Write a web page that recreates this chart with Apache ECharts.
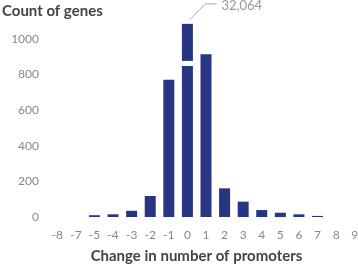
<!DOCTYPE html>
<html><head><meta charset="utf-8">
<script src="https://cdn.jsdelivr.net/npm/echarts@6/dist/echarts.min.js"></script>
<style>html,body{margin:0;padding:0;background:#fff}#c{width:358px;height:270px}</style>
</head><body><div id="c"></div>
<script>
// Categories (change in number of promoters); note -6 is absent in the source
var categories = ['-8','-7','-5','-4','-3','-2','-1','0','1','2','3','4','5','6','7','8','9'];
// Visible bar heights (count of genes); the '0' bar is broken, its lower segment is shown here
var counts     = [0, 0, 10, 15, 35, 118, 770, 848, 914, 161, 86, 39, 24, 15, 6, 0, 0];
// Axis-break gap and upper segment of the broken '0' bar
var breakGap   = [0, 0, 0, 0, 0, 0, 0, 28, 0, 0, 0, 0, 0, 0, 0, 0, 0];
var brokenTop  = [0, 0, 0, 0, 0, 0, 0, 208, 0, 0, 0, 0, 0, 0, 0, 0, 0];
var brokenCategory = '0';
var brokenLabel = '32,064';
var yTicks = [0, 200, 400, 600, 800, 1000];

var navy = '#283583';
var chart = echarts.init(document.getElementById('c'), null, {renderer: 'canvas'});
chart.setOption({
  animation: false,
  textStyle: {fontFamily: 'Lato'},
  title: {
    text: 'Count of genes', left: 2, top: 4, padding: 0,
    textStyle: {fontFamily: 'Lato', fontSize: 15, fontWeight: 'bold', color: '#444'}
  },
  grid: {left: 48, right: -6, top: 21, bottom: 53, outerBoundsMode: 'none', containLabel: false},
  xAxis: {
    type: 'category', data: categories,
    axisLine: {show: false}, axisTick: {show: false},
    axisLabel: {interval: 0, color: '#888', fontSize: 12, margin: 12},
    name: 'Change in number of promoters', nameLocation: 'middle', nameGap: 32,
    nameTextStyle: {fontFamily: 'Lato', fontSize: 15, fontWeight: 'bold', color: '#444', padding: [0, 19, 0, 0]}
  },
  yAxis: {
    type: 'value', min: 0, max: 1100, interval: 200,
    axisLine: {show: false}, axisTick: {show: false}, splitLine: {show: false},
    axisLabel: {
      color: '#888', fontSize: 12, margin: 9,
      formatter: function (v) { return yTicks.indexOf(v) >= 0 ? String(v) : ''; }
    }
  },
  series: [
    {type: 'bar', stack: 's', data: counts, barWidth: 11, itemStyle: {color: navy}},
    {type: 'bar', stack: 's', data: breakGap, barWidth: 11, itemStyle: {color: 'rgba(0,0,0,0)'}},
    {type: 'bar', stack: 's', data: brokenTop, barWidth: 11, itemStyle: {color: navy}}
  ]
});

// Leader line + label for the broken bar, anchored via the chart's own scale
var bi = categories.indexOf(brokenCategory);
var topVal = counts[bi] + breakGap[bi] + brokenTop[bi];
var p = chart.convertToPixel({gridIndex: 0}, [brokenCategory, topVal]);
chart.setOption({
  graphic: [
    {type: 'polyline', silent: true,
     shape: {points: [[p[0] + 2, p[1] - 4], [p[0] + 18, p[1] - 20], [p[0] + 29, p[1] - 20]]},
     style: {stroke: '#aaa', lineWidth: 1, fill: null}},
    {type: 'text', silent: true, x: p[0] + 34, y: p[1] - 18,
     style: {text: brokenLabel, fill: '#999', fontSize: 13, fontFamily: 'Lato',
             align: 'left', verticalAlign: 'middle'}}
  ]
});
</script></body></html>
